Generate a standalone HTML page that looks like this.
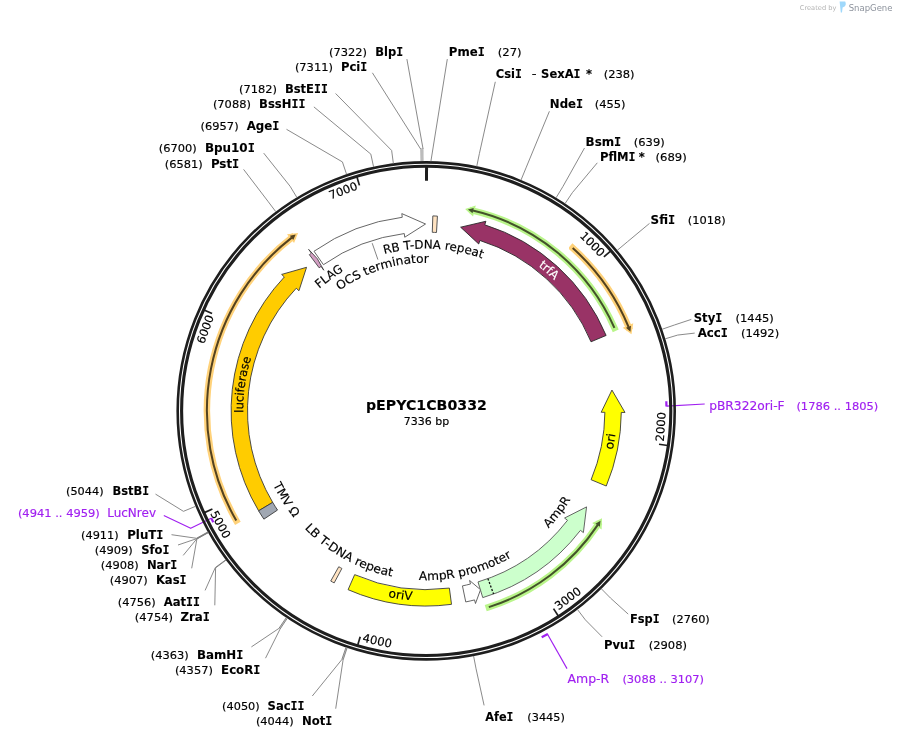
<!DOCTYPE html>
<html lang="en">
<head>
<meta charset="utf-8">
<title>pEPYC1CB0332 plasmid map</title>
<style>
html,body{margin:0;padding:0;background:#fff;}
body{width:897px;height:739px;overflow:hidden;}
svg{display:block;will-change:transform;}
svg text{font-family:"DejaVu Sans", "Liberation Sans", sans-serif;}
svg .m{font-family:"DejaVu Sans Mono", "Liberation Mono", monospace;}
</style>
</head>
<body>
<svg width="897" height="739" viewBox="0 0 897 739">
<rect width="897" height="739" fill="#ffffff"/>
<defs>
<filter id="soft" x="-5%" y="-5%" width="110%" height="110%"><feGaussianBlur stdDeviation="0.45"/></filter>
<path id="p1" d="M522.45 255.26 A183 183 0 0 1 567.34 294.41"/>
<path id="p2" d="M244.41 431.89 A183 183 0 0 1 257.6 339.73"/>
<path id="p3" d="M607.72 469.35 A190.7 190.7 0 0 0 616.87 414.07"/>
<path id="p4" d="M368.86 592.04 A190 190 0 0 0 432.05 600.81"/>
<path id="p5" d="M368.13 259.34 A162.3 162.3 0 0 1 497.76 265.23"/>
<path id="p6" d="M327.45 300.26 A148.3 148.3 0 0 1 444.15 263.69"/>
<path id="p7" d="M307.22 300.51 A162.3 162.3 0 0 1 358.75 263.28"/>
<path id="p8" d="M266.23 468.42 A170 170 0 0 0 305.83 530.94"/>
<path id="p9" d="M292.87 515.07 A169.2 169.2 0 0 0 409.4 579.26"/>
<path id="p10" d="M401.28 578.36 A169.3 169.3 0 0 0 526.58 547.23"/>
<path id="p11" d="M535.45 540.5 A169.5 169.5 0 0 0 579.15 483.95"/>
</defs>
<g filter="url(#soft)"><path d="M236.27 520.54 A219.3 219.3 0 0 1 291.78 237.63" fill="none" stroke="#ffd27a" stroke-width="6.5" stroke-linecap="square"/><path d="M286.99 234.14 L298.11 232.9 L294.04 243.09 Z" fill="#ffd27a"/></g>
<path d="M236.27 520.54 A219.3 219.3 0 0 1 291.78 237.63" fill="none" stroke="#54421f" stroke-width="2.0"/>
<path d="M289.88 235.68 L295.76 234.61 L293.2 239.94 Z" fill="#54421f"/>
<g filter="url(#soft)"><path d="M572.68 247.96 A219.1 219.1 0 0 1 628.6 327" fill="none" stroke="#ffd27a" stroke-width="6.5" stroke-linecap="square"/><path d="M633.23 323.3 L631.49 334.35 L622.73 327.74 Z" fill="#ffd27a"/></g>
<path d="M572.68 247.96 A219.1 219.1 0 0 1 628.6 327" fill="none" stroke="#54421f" stroke-width="2.0"/>
<path d="M630.98 325.68 L630.46 331.64 L625.99 327.76 Z" fill="#54421f"/>
<g filter="url(#soft)"><path d="M614.41 327.9 A205.7 205.7 0 0 0 472.82 210.55" fill="none" stroke="#b9f58a" stroke-width="6.5" stroke-linecap="square"/><path d="M475.72 205.38 L465.1 208.91 L473.05 216.46 Z" fill="#b9f58a"/></g>
<path d="M614.41 327.9 A205.7 205.7 0 0 0 472.82 210.55" fill="none" stroke="#43522a" stroke-width="2.0"/>
<path d="M473.73 207.99 L467.94 209.48 L472.5 213.25 Z" fill="#43522a"/>
<g filter="url(#soft)"><path d="M488.81 607.15 A206 206 0 0 0 597.79 524.89" fill="none" stroke="#b9f58a" stroke-width="6.5" stroke-linecap="square"/><path d="M601.62 529.41 L602.03 518.23 L592.17 523.03 Z" fill="#b9f58a"/></g>
<path d="M488.81 607.15 A206 206 0 0 0 597.79 524.89" fill="none" stroke="#43522a" stroke-width="2.0"/>
<path d="M599.87 526.64 L600.5 520.69 L595.37 523.64 Z" fill="#43522a"/>
<path d="M258.62 510.8 A195.1 195.1 0 0 1 284.33 276.97 L281.64 274.43 L306.56 267.31 L298.94 290.77 L296.25 288.23 A178.7 178.7 0 0 0 272.7 502.4 Z" fill="#ffcc00" stroke="#3a3a3a" stroke-width="0.9" stroke-linejoin="miter"/>
<path d="M263.89 519.15 A195.1 195.1 0 0 1 258.62 510.8 L272.7 502.4 A178.7 178.7 0 0 0 277.53 510.05 Z" fill="#a0a7b2" stroke="#3a3a3a" stroke-width="0.9" stroke-linejoin="miter"/>
<path d="M309.33 254.68 A195.1 195.1 0 0 1 311.39 253.16 L308.62 249.36 L317.45 258.89 L323.8 270.22 L321.04 266.42 A178.7 178.7 0 0 0 319.15 267.81 Z" fill="#d39fc3" stroke="#333" stroke-width="0.8" stroke-linejoin="miter"/>
<path d="M314.02 251.28 A195.1 195.1 0 0 1 402.25 217.28 L401.8 213.6 L425.55 224 L404.72 237.22 L404.27 233.55 A178.7 178.7 0 0 0 323.45 264.7 Z" fill="#ffffff" stroke="#555" stroke-width="0.9" stroke-linejoin="miter"/>
<path d="M432.84 215.91 A195.1 195.1 0 0 1 437.43 216.12 L436.49 232.5 A178.7 178.7 0 0 0 432.28 232.3 Z" fill="#ffe3c2" stroke="#555" stroke-width="1.0" stroke-linejoin="miter"/>
<path d="M606.12 335.45 A195.1 195.1 0 0 0 484.77 224.8 L485.88 221.27 L460.64 227.2 L478.74 243.97 L479.85 240.44 A178.7 178.7 0 0 1 591 341.79 Z" fill="#993366" stroke="#2a2a2a" stroke-width="0.9" stroke-linejoin="miter"/>
<path d="M606.25 486.03 A195.1 195.1 0 0 0 621.29 412.43 L624.99 412.46 L611.94 390.07 L601.19 412.27 L604.89 412.3 A178.7 178.7 0 0 1 591.12 479.72 Z" fill="#ffff00" stroke="#3a3a3a" stroke-width="0.9" stroke-linejoin="miter"/>
<path d="M482.75 597.62 A195.1 195.1 0 0 0 580.46 530.34 L583.39 532.61 L586.57 506.88 L564.57 518.04 L567.5 520.3 A178.7 178.7 0 0 1 478 581.93 Z" fill="#ccffcc" stroke="#555" stroke-width="0.9" stroke-linejoin="miter"/>
<path d="M487.9 578.61 L493.57 594" stroke="#111" stroke-width="1.3" stroke-dasharray="2 1.7"/>
<path d="M465.76 601.95 A195.1 195.1 0 0 0 474.55 599.91 L475.47 603.5 L480.53 589.73 L469.57 580.44 L470.49 584.02 A178.7 178.7 0 0 1 462.44 585.89 Z" fill="#ffffff" stroke="#555" stroke-width="0.9" stroke-linejoin="miter"/>
<path d="M451.5 604.35 A195.1 195.1 0 0 1 348.09 589.68 L354.66 574.65 A178.7 178.7 0 0 0 449.37 588.09 Z" fill="#ffff00" stroke="#3a3a3a" stroke-width="0.9" stroke-linejoin="miter"/>
<path d="M334.16 582.92 A195.1 195.1 0 0 1 330.72 581.04 L338.75 566.74 A178.7 178.7 0 0 0 341.89 568.46 Z" fill="#ffe3c2" stroke="#555" stroke-width="1.0" stroke-linejoin="miter"/>
<path d="M372.19 243.18 L377.92 259.62" stroke="#666" stroke-width="0.8"/>
<path d="M666.55 406.08 L704.7 404" fill="none" stroke="#a020f0" stroke-width="1.15"/>
<path d="M666.31 401.34 L666.46 406.58" fill="none" stroke="#a020f0" stroke-width="2.2"/>
<path d="M567 668.6 L547.26 633.74" fill="none" stroke="#a020f0" stroke-width="1.15"/>
<path d="M547.77 634.03 L541.68 637.24" fill="none" stroke="#a020f0" stroke-width="2.2"/>
<path d="M163.8 515.6 L190.7 528.3 L211.2 518.23" fill="none" stroke="#a020f0" stroke-width="1.15" stroke-linejoin="round"/>
<path d="M211.14 517.89 L213.33 522.18" fill="none" stroke="#a020f0" stroke-width="2.2"/>
<circle cx="426.2" cy="410.9" r="248.5" fill="none" stroke="#1e1e1e" stroke-width="2.6"/>
<circle cx="426.2" cy="410.9" r="244.6" fill="none" stroke="#1e1e1e" stroke-width="3.1"/>
<path d="M426.54 166.9 L426.52 180.7" stroke="#1e1e1e" stroke-width="3"/>
<path d="M610.55 251.06 L603.9 256.82" stroke="#1e1e1e" stroke-width="1.7"/>
<text stroke="#000" stroke-width="0.16" transform="translate(589.62 246.93) rotate(44.9)" text-anchor="middle" font-size="11.5" textLength="29.5" lengthAdjust="spacingAndGlyphs">1000</text>
<path d="M667.74 445.47 L659.03 444.23" stroke="#1e1e1e" stroke-width="1.7"/>
<text stroke="#000" stroke-width="0.16" transform="translate(664.66 426.99) rotate(273.86)" text-anchor="middle" font-size="11.5" textLength="29.5" lengthAdjust="spacingAndGlyphs">2000</text>
<path d="M558.31 616.04 L553.54 608.64" stroke="#1e1e1e" stroke-width="1.7"/>
<text stroke="#000" stroke-width="0.16" transform="translate(570.26 601.61) rotate(322.93)" text-anchor="middle" font-size="11.5" textLength="29.5" lengthAdjust="spacingAndGlyphs">3000</text>
<path d="M357.75 645.1 L360.22 636.66" stroke="#1e1e1e" stroke-width="1.7"/>
<text stroke="#000" stroke-width="0.16" transform="translate(376.48 644.67) rotate(372.01)" text-anchor="middle" font-size="11.5" textLength="29.5" lengthAdjust="spacingAndGlyphs">4000</text>
<path d="M204.41 512.61 L212.41 508.94" stroke="#1e1e1e" stroke-width="1.7"/>
<text stroke="#000" stroke-width="0.16" transform="translate(217.01 526.48) rotate(421.08)" text-anchor="middle" font-size="11.5" textLength="29.5" lengthAdjust="spacingAndGlyphs">5000</text>
<path d="M204.06 309.95 L212.07 313.59" stroke="#1e1e1e" stroke-width="1.7"/>
<text stroke="#000" stroke-width="0.16" transform="translate(209.03 330.71) rotate(290.27)" text-anchor="middle" font-size="11.5" textLength="29.5" lengthAdjust="spacingAndGlyphs">6000</text>
<path d="M356.95 176.93 L359.44 185.37" stroke="#1e1e1e" stroke-width="1.7"/>
<text stroke="#000" stroke-width="0.16" transform="translate(344.53 194.29) rotate(339.34)" text-anchor="middle" font-size="11.5" textLength="29.5" lengthAdjust="spacingAndGlyphs">7000</text>
<text stroke="#fff" stroke-width="0.16" font-size="12" fill="#fff" text-anchor="middle"><textPath href="#p1" startOffset="50%" textLength="21.5" lengthAdjust="spacingAndGlyphs">trfA</textPath></text>
<text stroke="#000" stroke-width="0.16" font-size="12" fill="#000" text-anchor="middle"><textPath href="#p2" startOffset="50%" textLength="55.8" lengthAdjust="spacingAndGlyphs">luciferase</textPath></text>
<text stroke="#000" stroke-width="0.16" font-size="12" fill="#000" text-anchor="middle"><textPath href="#p3" startOffset="50%" textLength="16.3" lengthAdjust="spacingAndGlyphs">ori</textPath></text>
<text stroke="#000" stroke-width="0.16" font-size="12" fill="#000" text-anchor="middle"><textPath href="#p4" startOffset="50%" textLength="24.3" lengthAdjust="spacingAndGlyphs">oriV</textPath></text>
<text stroke="#000" stroke-width="0.16" font-size="12" fill="#000" text-anchor="middle"><textPath href="#p5" startOffset="50%" textLength="99.5" lengthAdjust="spacingAndGlyphs">RB T-DNA repeat</textPath></text>
<text stroke="#000" stroke-width="0.16" font-size="12" fill="#000" text-anchor="middle"><textPath href="#p6" startOffset="50%" textLength="95" lengthAdjust="spacingAndGlyphs">OCS terminator</textPath></text>
<text stroke="#000" stroke-width="0.16" font-size="12" fill="#000" text-anchor="middle"><textPath href="#p7" startOffset="50%" textLength="30" lengthAdjust="spacingAndGlyphs">FLAG</textPath></text>
<text stroke="#000" stroke-width="0.16" font-size="12" fill="#000" text-anchor="middle"><textPath href="#p8" startOffset="50%" textLength="39" lengthAdjust="spacingAndGlyphs">TMV Ω</textPath></text>
<text stroke="#000" stroke-width="0.16" font-size="12" fill="#000" text-anchor="middle"><textPath href="#p9" startOffset="50%" textLength="101.3" lengthAdjust="spacingAndGlyphs">LB T-DNA repeat</textPath></text>
<text stroke="#000" stroke-width="0.16" font-size="12" fill="#000" text-anchor="middle"><textPath href="#p10" startOffset="50%" textLength="97" lengthAdjust="spacingAndGlyphs">AmpR promoter</textPath></text>
<text stroke="#000" stroke-width="0.16" font-size="12" fill="#000" text-anchor="middle"><textPath href="#p11" startOffset="50%" textLength="36.5" lengthAdjust="spacingAndGlyphs">AmpR</textPath></text>
<text stroke="#000" stroke-width="0.1" x="426.4" y="410.2" text-anchor="middle" font-size="13.5" font-weight="bold" textLength="121" lengthAdjust="spacingAndGlyphs">pEPYC1CB0332</text>
<text stroke="#000" stroke-width="0.16" x="426.5" y="424.6" text-anchor="middle" font-size="11" textLength="45.4" lengthAdjust="spacingAndGlyphs">7336 bp</text>
<path d="M420.41 160.97 L420.12 148.27 L423.51 148.21 L423.64 160.91 Z" fill="#bcbcbc"/>
<path d="M207.97 532.86 L196.88 539.05 L196.44 538.27 L207.55 532.11 Z" fill="#c4c4c4"/>
<path d="M225.77 560.33 L215.59 567.92 L215.32 567.56 L225.52 559.99 Z" fill="#c4c4c4"/>
<path d="M287.08 618.62 L280.02 629.17 L278.9 628.42 L286.02 617.9 Z" fill="#c4c4c4"/>
<path d="M347.07 648.05 L343.06 660.1 L341.78 659.66 L345.86 647.64 Z" fill="#c4c4c4"/>
<path d="M423.06 148.92 L406.9 59.1 M420.59 148.96 L372.4 72.8 M393.37 163.47 L391.65 150.48 L335.6 93.5 M373.58 166.91 L370.82 154.1 L313.9 106.9 M346.59 174.34 L342.42 161.92 L286.5 129.3 M296.86 197.42 L290.07 186.22 L263.7 153.1 M275.81 211.69 L267.92 201.24 L243.6 169.4 M430.9 161.34 L447.3 59.1 M476.73 166.47 L479.38 153.64 L495.3 81.8 M521.03 180.01 L526 167.9 L549.4 111.3 M556.09 197.76 L562.9 186.57 L584.5 148 M565.09 203.51 L572.38 192.63 L597.3 162.8 M617.28 250.31 L627.31 241.89 L649.5 223.4 M662.07 329.27 L674.45 324.99 L691.3 319.4 M665.17 338.83 L677.71 335.05 L694.7 333.1 M601.33 588.75 L610.52 598.08 L628.2 614.1 M577.44 609.46 L585.38 619.88 L602.1 636.8 M473.58 655.96 L476.07 668.82 L484.1 705.4 M195.56 506.32 L183.45 511.33 L155.5 494.1 M207.9 531.92 L196.44 538.27 L171.5 534.7 M208.11 532.29 L196.66 538.66 L178 545 M208.21 532.48 L196.77 538.86 L183.2 555.4 M208.32 532.66 L196.88 539.05 L191.7 568.3 M225.84 559.75 L215.32 567.56 L205.1 590.4 M226.09 560.09 L215.59 567.92 L214.8 605.3 M286.24 617.57 L278.9 628.42 L251.4 646.9 M287.31 618.29 L280.02 629.17 L265.5 658.2 M345.99 647.26 L341.78 659.66 L312.3 696 M347.2 647.67 L343.06 660.1 L335.7 708.7" fill="none" stroke="#7d7d7d" stroke-width="0.9" stroke-linejoin="round"/>
<text stroke="#000" stroke-width="0.1" x="375.2" y="55.7" font-size="11.5" font-weight="bold" textLength="27.9" lengthAdjust="spacingAndGlyphs">Blp<tspan class="m">I</tspan></text>
<text stroke="#000" stroke-width="0.16" x="329" y="55.7" font-size="10.7" textLength="38" lengthAdjust="spacingAndGlyphs">(7322)</text>
<text stroke="#000" stroke-width="0.1" x="341" y="71.1" font-size="11.5" font-weight="bold" textLength="26.3" lengthAdjust="spacingAndGlyphs">Pci<tspan class="m">I</tspan></text>
<text stroke="#000" stroke-width="0.16" x="294.9" y="71.1" font-size="10.7" textLength="38" lengthAdjust="spacingAndGlyphs">(7311)</text>
<text stroke="#000" stroke-width="0.1" x="284.9" y="92.5" font-size="11.5" font-weight="bold" textLength="43" lengthAdjust="spacingAndGlyphs">BstE<tspan class="m">I</tspan><tspan class="m">I</tspan></text>
<text stroke="#000" stroke-width="0.16" x="239" y="92.5" font-size="10.7" textLength="38" lengthAdjust="spacingAndGlyphs">(7182)</text>
<text stroke="#000" stroke-width="0.1" x="259.1" y="107.9" font-size="11.5" font-weight="bold" textLength="46.3" lengthAdjust="spacingAndGlyphs">BssH<tspan class="m">I</tspan><tspan class="m">I</tspan></text>
<text stroke="#000" stroke-width="0.16" x="212.9" y="107.9" font-size="10.7" textLength="38" lengthAdjust="spacingAndGlyphs">(7088)</text>
<text stroke="#000" stroke-width="0.1" x="246.7" y="129.6" font-size="11.5" font-weight="bold" textLength="32.7" lengthAdjust="spacingAndGlyphs">Age<tspan class="m">I</tspan></text>
<text stroke="#000" stroke-width="0.16" x="200.6" y="129.6" font-size="10.7" textLength="38" lengthAdjust="spacingAndGlyphs">(6957)</text>
<text stroke="#000" stroke-width="0.1" x="204.9" y="152.3" font-size="11.5" font-weight="bold" textLength="50" lengthAdjust="spacingAndGlyphs">Bpu10<tspan class="m">I</tspan></text>
<text stroke="#000" stroke-width="0.16" x="158.8" y="152.3" font-size="10.7" textLength="38" lengthAdjust="spacingAndGlyphs">(6700)</text>
<text stroke="#000" stroke-width="0.1" x="210.9" y="168" font-size="11.5" font-weight="bold" textLength="28.3" lengthAdjust="spacingAndGlyphs">Pst<tspan class="m">I</tspan></text>
<text stroke="#000" stroke-width="0.16" x="164.8" y="168" font-size="10.7" textLength="38" lengthAdjust="spacingAndGlyphs">(6581)</text>
<text stroke="#000" stroke-width="0.1" x="448.8" y="55.7" font-size="11.5" font-weight="bold" textLength="36" lengthAdjust="spacingAndGlyphs">Pme<tspan class="m">I</tspan></text>
<text stroke="#000" stroke-width="0.16" x="497.7" y="55.7" font-size="10.7" textLength="23.9" lengthAdjust="spacingAndGlyphs">(27)</text>
<text stroke="#000" stroke-width="0.1" x="495.7" y="77.8" font-size="11.5" font-weight="bold" textLength="26.2" lengthAdjust="spacingAndGlyphs">Csi<tspan class="m">I</tspan></text>
<text stroke="#000" stroke-width="0.16" x="603.7" y="77.8" font-size="10.7" textLength="30.9" lengthAdjust="spacingAndGlyphs">(238)</text>
<text stroke="#000" stroke-width="0.1" x="549.8" y="107.9" font-size="11.5" font-weight="bold" textLength="33.3" lengthAdjust="spacingAndGlyphs">Nde<tspan class="m">I</tspan></text>
<text stroke="#000" stroke-width="0.16" x="594.7" y="107.9" font-size="10.7" textLength="30.9" lengthAdjust="spacingAndGlyphs">(455)</text>
<text stroke="#000" stroke-width="0.1" x="585.6" y="146" font-size="11.5" font-weight="bold" textLength="35.7" lengthAdjust="spacingAndGlyphs">Bsm<tspan class="m">I</tspan></text>
<text stroke="#000" stroke-width="0.16" x="633.8" y="146" font-size="10.7" textLength="30.9" lengthAdjust="spacingAndGlyphs">(639)</text>
<text stroke="#000" stroke-width="0.1" x="600" y="161.4" font-size="11.5" font-weight="bold" textLength="35.6" lengthAdjust="spacingAndGlyphs">PflM<tspan class="m">I</tspan></text>
<text stroke="#000" stroke-width="0.16" x="655.5" y="161.4" font-size="10.7" textLength="31.3" lengthAdjust="spacingAndGlyphs">(689)</text>
<text stroke="#000" stroke-width="0.1" x="650.6" y="224.1" font-size="11.5" font-weight="bold" textLength="24.6" lengthAdjust="spacingAndGlyphs">Sfi<tspan class="m">I</tspan></text>
<text stroke="#000" stroke-width="0.16" x="687.7" y="224.1" font-size="10.7" textLength="38" lengthAdjust="spacingAndGlyphs">(1018)</text>
<text stroke="#000" stroke-width="0.1" x="693.7" y="322" font-size="11.5" font-weight="bold" textLength="28.6" lengthAdjust="spacingAndGlyphs">Sty<tspan class="m">I</tspan></text>
<text stroke="#000" stroke-width="0.16" x="735.5" y="322" font-size="10.7" textLength="38.3" lengthAdjust="spacingAndGlyphs">(1445)</text>
<text stroke="#000" stroke-width="0.1" x="697.7" y="337.1" font-size="11.5" font-weight="bold" textLength="30.3" lengthAdjust="spacingAndGlyphs">Acc<tspan class="m">I</tspan></text>
<text stroke="#000" stroke-width="0.16" x="740.9" y="337.1" font-size="10.7" textLength="38.3" lengthAdjust="spacingAndGlyphs">(1492)</text>
<text stroke="#000" stroke-width="0.1" x="630" y="622.8" font-size="11.5" font-weight="bold" textLength="29.6" lengthAdjust="spacingAndGlyphs">Fsp<tspan class="m">I</tspan></text>
<text stroke="#000" stroke-width="0.16" x="672.1" y="622.8" font-size="10.7" textLength="37.7" lengthAdjust="spacingAndGlyphs">(2760)</text>
<text stroke="#000" stroke-width="0.1" x="603.9" y="648.5" font-size="11.5" font-weight="bold" textLength="31.3" lengthAdjust="spacingAndGlyphs">Pvu<tspan class="m">I</tspan></text>
<text stroke="#000" stroke-width="0.16" x="648.7" y="648.5" font-size="10.7" textLength="38.3" lengthAdjust="spacingAndGlyphs">(2908)</text>
<text stroke="#000" stroke-width="0.1" x="485.2" y="721.2" font-size="11.5" font-weight="bold" textLength="28.2" lengthAdjust="spacingAndGlyphs">Afe<tspan class="m">I</tspan></text>
<text stroke="#000" stroke-width="0.16" x="527.3" y="721.2" font-size="10.7" textLength="37.6" lengthAdjust="spacingAndGlyphs">(3445)</text>
<text stroke="#000" stroke-width="0.1" x="112.4" y="495.3" font-size="11.5" font-weight="bold" textLength="36.7" lengthAdjust="spacingAndGlyphs">BstB<tspan class="m">I</tspan></text>
<text stroke="#000" stroke-width="0.16" x="66" y="495.3" font-size="10.7" textLength="37.6" lengthAdjust="spacingAndGlyphs">(5044)</text>
<text stroke="#000" stroke-width="0.1" x="127.2" y="538.6" font-size="11.5" font-weight="bold" textLength="36.3" lengthAdjust="spacingAndGlyphs">PluT<tspan class="m">I</tspan></text>
<text stroke="#000" stroke-width="0.16" x="81" y="538.6" font-size="10.7" textLength="37.7" lengthAdjust="spacingAndGlyphs">(4911)</text>
<text stroke="#000" stroke-width="0.1" x="141.2" y="553.9" font-size="11.5" font-weight="bold" textLength="28.3" lengthAdjust="spacingAndGlyphs">Sfo<tspan class="m">I</tspan></text>
<text stroke="#000" stroke-width="0.16" x="94.7" y="553.9" font-size="10.7" textLength="38" lengthAdjust="spacingAndGlyphs">(4909)</text>
<text stroke="#000" stroke-width="0.1" x="146.9" y="568.7" font-size="11.5" font-weight="bold" textLength="30.3" lengthAdjust="spacingAndGlyphs">Nar<tspan class="m">I</tspan></text>
<text stroke="#000" stroke-width="0.16" x="100.7" y="568.7" font-size="10.7" textLength="38" lengthAdjust="spacingAndGlyphs">(4908)</text>
<text stroke="#000" stroke-width="0.1" x="155.9" y="583.7" font-size="11.5" font-weight="bold" textLength="30.7" lengthAdjust="spacingAndGlyphs">Kas<tspan class="m">I</tspan></text>
<text stroke="#000" stroke-width="0.16" x="109.8" y="583.7" font-size="10.7" textLength="38" lengthAdjust="spacingAndGlyphs">(4907)</text>
<text stroke="#000" stroke-width="0.1" x="163.7" y="606.1" font-size="11.5" font-weight="bold" textLength="36.4" lengthAdjust="spacingAndGlyphs">Aat<tspan class="m">I</tspan><tspan class="m">I</tspan></text>
<text stroke="#000" stroke-width="0.16" x="117.8" y="606.1" font-size="10.7" textLength="38" lengthAdjust="spacingAndGlyphs">(4756)</text>
<text stroke="#000" stroke-width="0.1" x="180.4" y="620.8" font-size="11.5" font-weight="bold" textLength="29.5" lengthAdjust="spacingAndGlyphs">Zra<tspan class="m">I</tspan></text>
<text stroke="#000" stroke-width="0.16" x="134.8" y="620.8" font-size="10.7" textLength="38.3" lengthAdjust="spacingAndGlyphs">(4754)</text>
<text stroke="#000" stroke-width="0.1" x="197" y="658.9" font-size="11.5" font-weight="bold" textLength="46.3" lengthAdjust="spacingAndGlyphs">BamH<tspan class="m">I</tspan></text>
<text stroke="#000" stroke-width="0.16" x="150.8" y="658.9" font-size="10.7" textLength="38" lengthAdjust="spacingAndGlyphs">(4363)</text>
<text stroke="#000" stroke-width="0.1" x="221.1" y="674" font-size="11.5" font-weight="bold" textLength="39.3" lengthAdjust="spacingAndGlyphs">EcoR<tspan class="m">I</tspan></text>
<text stroke="#000" stroke-width="0.16" x="174.9" y="674" font-size="10.7" textLength="38" lengthAdjust="spacingAndGlyphs">(4357)</text>
<text stroke="#000" stroke-width="0.1" x="267.6" y="710.1" font-size="11.5" font-weight="bold" textLength="36.9" lengthAdjust="spacingAndGlyphs">Sac<tspan class="m">I</tspan><tspan class="m">I</tspan></text>
<text stroke="#000" stroke-width="0.16" x="222.1" y="710.1" font-size="10.7" textLength="37.6" lengthAdjust="spacingAndGlyphs">(4050)</text>
<text stroke="#000" stroke-width="0.1" x="302" y="725.2" font-size="11.5" font-weight="bold" textLength="30.3" lengthAdjust="spacingAndGlyphs">Not<tspan class="m">I</tspan></text>
<text stroke="#000" stroke-width="0.16" x="255.9" y="725.2" font-size="10.7" textLength="37.9" lengthAdjust="spacingAndGlyphs">(4044)</text>
<text stroke="#000" stroke-width="0.16" x="531.8" y="76.6" font-size="10.7" textLength="4.8" lengthAdjust="spacingAndGlyphs">-</text>
<text stroke="#000" stroke-width="0.1" x="541.1" y="77.8" font-size="11.5" font-weight="bold" textLength="39.4" lengthAdjust="spacingAndGlyphs">SexA<tspan class="m">I</tspan></text>
<text stroke="#000" stroke-width="0.1" x="586" y="77.8" font-size="11.5" font-weight="bold">*</text>
<text stroke="#000" stroke-width="0.1" x="638.8" y="161.4" font-size="11.5" font-weight="bold">*</text>
<text stroke="#a020f0" stroke-width="0.16" x="709.2" y="409.6" font-size="12" fill="#a020f0" textLength="75.4" lengthAdjust="spacingAndGlyphs">pBR322ori-F</text>
<text stroke="#a020f0" stroke-width="0.16" x="796.4" y="409.6" font-size="11" fill="#a020f0" textLength="81.9" lengthAdjust="spacingAndGlyphs">(1786 .. 1805)</text>
<text stroke="#a020f0" stroke-width="0.16" x="567.5" y="682.6" font-size="12" fill="#a020f0" textLength="41.8" lengthAdjust="spacingAndGlyphs">Amp-R</text>
<text stroke="#a020f0" stroke-width="0.16" x="622.4" y="682.6" font-size="11" fill="#a020f0" textLength="81.6" lengthAdjust="spacingAndGlyphs">(3088 .. 3107)</text>
<text stroke="#a020f0" stroke-width="0.16" x="107.2" y="516.9" font-size="12" fill="#a020f0" textLength="48.8" lengthAdjust="spacingAndGlyphs">LucNrev</text>
<text stroke="#a020f0" stroke-width="0.16" x="17.9" y="516.9" font-size="11" fill="#a020f0" textLength="81.9" lengthAdjust="spacingAndGlyphs">(4941 .. 4959)</text>
<text x="799.8" y="10.2" font-size="6.6" fill="#b4b4b4" font-family='"Liberation Sans", sans-serif' textLength="36.6" lengthAdjust="spacingAndGlyphs">Created by</text>
<path d="M839.6 1.6 L845.2 1.6 Q846.6 4.6 844.6 6.6 L842.6 7.6 L842 12.4 L840.8 12.4 Z" fill="#9fd8fb"/>
<text x="848.7" y="10.6" font-size="9" fill="#8c929c" font-family='"Liberation Sans", sans-serif' textLength="43.8" lengthAdjust="spacingAndGlyphs">SnapGene</text>
</svg>
</body>
</html>
